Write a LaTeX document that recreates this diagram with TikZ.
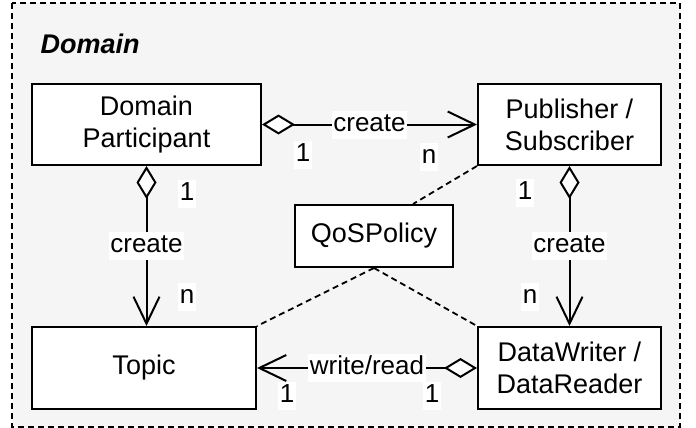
\documentclass[tikz,border=0pt]{standalone}
\usepackage{fontspec}
\setmainfont{Liberation Sans}
\usetikzlibrary{arrows.meta,calc}
\definecolor{bgc}{HTML}{F5F5F5}
\begin{document}
\begin{tikzpicture}[x=1pt,y=-1pt,
  box/.style={draw, line width=2pt, fill=white, align=center, font=\fontsize{27}{32}\selectfont, inner sep=0pt},
  lbl/.style={fill=white, font=\fontsize{26}{30}\selectfont, inner sep=1.5pt, text height=19pt, text depth=6pt},
  conn/.style={line width=2pt, {Diamond[fill=white,length=33pt,width=20pt]}-{Straight Barb[length=27pt,width=26pt]}},
  qosline/.style={line width=1.8pt, dash pattern=on 6pt off 4pt}]
\useasboundingbox (0,0) rectangle (696,428);
\draw[line width=1.8pt, dash pattern=on 6pt off 4pt, fill=bgc] (12,3) rectangle (680,427);
\node[anchor=base west, font=\fontsize{27}{32}\selectfont\bfseries\itshape] (title) at (37,54) {Domain};
\node[box, minimum width=229pt, minimum height=81pt] (dp) at (146.5,124.5) {Domain\\Participant};
\node[box, minimum width=183pt, minimum height=81pt] (ps) at (569.5,124.5) {Publisher /\\Subscriber};
\node[box, minimum width=224pt, minimum height=82pt] (topic) at (144,368) {Topic};
\node[box, minimum width=183pt, minimum height=82pt] (dw) at (569.5,368) {DataWriter /\\DataReader};
\node[box, minimum width=158pt, minimum height=62pt] (qos) at (374,236) {QoSPolicy};
\coordinate (qtop) at ($(qos.north)+(39,0)$);
\draw[qosline] (ps.south west) -- (qtop);
\draw[qosline] (qos.south) -- (topic.north east);
\draw[qosline] (qos.south) -- (dw.north west);
\draw[conn] (dp.east) -- (ps.west) node[lbl, midway] (l1) {create};
\node[lbl] (m1) at (303,155) {1};
\node[lbl] (m2) at (429,157) {n};
\draw[conn] (dp.south) -- (dp.south |- topic.north) node[lbl, midway] (l2) {create};
\node[lbl] (m3) at (187,194) {1};
\node[lbl] (m4) at (187,297) {n};
\draw[conn] (ps.south) -- (dw.north) node[lbl, midway] (l3) {create};
\node[lbl] (m5) at (525,193) {1};
\node[lbl] (m6) at (530,297) {n};
\draw[conn] (dw.west) -- (topic.east) node[lbl, midway] (l4) {write/read};
\node[lbl] (m7) at (287,396) {1};
\node[lbl] (m8) at (432,396) {1};
\end{tikzpicture}
\end{document}
